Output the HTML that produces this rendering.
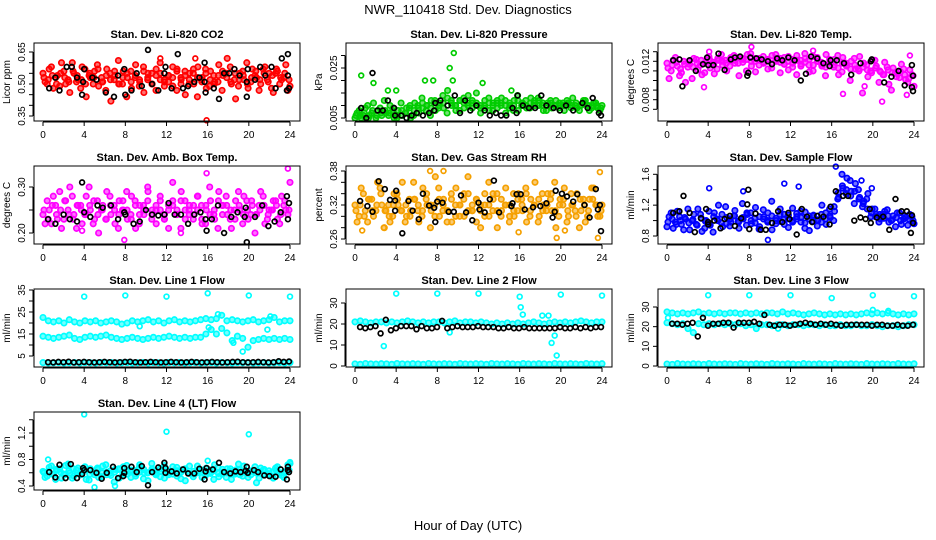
<!DOCTYPE html>
<html><head><meta charset="utf-8"><style>
body{margin:0;background:#fff;width:936px;height:540px;overflow:hidden}
svg{display:block}
text{font-family:"Liberation Sans",Arial,sans-serif;fill:#000}
</style></head><body>
<svg id="chart" width="936" height="540" xmlns="http://www.w3.org/2000/svg">
<text x="468" y="14" font-size="13" text-anchor="middle">NWR_110418  Std. Dev. Diagnostics</text>
<text x="468" y="530" font-size="13" text-anchor="middle">Hour of Day (UTC)</text>
</svg>
<script>
// ---------- data ----------
const co2A=[0.55,0.50,0.58,0.53,0.49,0.56,0.52,0.60,0.51,0.48,0.57,0.54,0.50,0.59,0.53,0.47,0.55,0.52,0.61,0.50,0.44,0.56,0.53,0.49,0.58,0.52,0.55,0.47,0.60,0.51,0.54,0.49,0.57,0.52,0.45,0.55,0.50,0.58,0.53,0.48,0.56,0.51,0.59,0.54,0.62,0.50,0.43,0.55,0.52,0.48,0.57,0.53,0.50,0.58,0.55,0.46,0.56,0.52,0.59,0.49];
const co2B=[0.51,0.57,0.48,0.54,0.60,0.50,0.46,0.55,0.52,0.58,0.44,0.53,0.56,0.49,0.51,0.57,0.42,0.54,0.50,0.56,0.53,0.48,0.59,0.51,0.46,0.55,0.50,0.57,0.52,0.49,0.54,0.58,0.47,0.53,0.56,0.50,0.55,0.44,0.52,0.57,0.49,0.54,0.51,0.47,0.55,0.58,0.52,0.49,0.56,0.60,0.51,0.54,0.47,0.57,0.52,0.48,0.55,0.50,0.53,0.47];
const co2C=[0.53,0.52,0.54,0.50,0.55,0.53,0.51,0.56,0.54,0.52,0.50,0.55,0.53,0.57,0.51,0.54,0.52,0.56,0.50,0.53,0.55,0.51,0.54,0.52,0.56,0.53,0.50,0.54,0.55,0.52,0.51,0.53,0.56,0.50,0.54,0.52,0.57,0.53,0.51,0.55,0.52,0.50,0.54,0.56,0.53,0.51,0.55,0.52,0.54,0.50,0.53,0.56,0.52,0.55,0.51,0.54,0.57,0.53,0.55,0.52];
const co2Out=[[15.9,0.33],[11.4,0.62],[14.8,0.62]];
const co2Black=[[0.6,0.48],[1.2,0.53],[2.3,0.58],[2.8,0.58],[1.6,0.47],[3.3,0.53],[3.8,0.45],[4,0.57],[3.9,0.51],[4.8,0.53],[5.2,0.52],[6.1,0.46],[6.9,0.44],[7.3,0.54],[7.9,0.57],[8,0.45],[8.6,0.47],[9.1,0.55],[9.6,0.49],[10.2,0.66],[10.6,0.50],[11.2,0.47],[11.8,0.55],[11.9,0.58],[13.1,0.64],[12.5,0.48],[13.6,0.48],[14.1,0.49],[14.7,0.51],[15.2,0.53],[15.7,0.51],[15.8,0.46],[15.7,0.60],[16.6,0.48],[17.1,0.43],[17.6,0.55],[18.1,0.55],[18.6,0.57],[19.1,0.54],[19.8,0.51],[19.9,0.57],[19.8,0.44],[20.6,0.52],[21.1,0.58],[21.6,0.54],[22.2,0.58],[22.6,0.48],[23.2,0.62],[23.7,0.47],[23.8,0.54],[23.9,0.48],[23.8,0.64]];

const presA=[0.005,0.008,0.006,0.010,0.007,0.005,0.009,0.012,0.006,0.008,0.005,0.011,0.007,0.009,0.006,0.010,0.013,0.008,0.006,0.011,0.009,0.014,0.007,0.012,0.010,0.008,0.013,0.011,0.009,0.015,0.010,0.012,0.008,0.011,0.009,0.013,0.007,0.010,0.012,0.008,0.011,0.009,0.013,0.010,0.012,0.008,0.011,0.009,0.012,0.010,0.008,0.011,0.013,0.009,0.010,0.012,0.008,0.011,0.009,0.010];
const presB=[0.007,0.005,0.009,0.006,0.011,0.008,0.006,0.007,0.010,0.005,0.008,0.006,0.009,0.005,0.011,0.007,0.009,0.010,0.012,0.008,0.011,0.009,0.016,0.010,0.008,0.012,0.009,0.014,0.011,0.010,0.007,0.009,0.013,0.008,0.011,0.010,0.012,0.009,0.008,0.014,0.010,0.012,0.009,0.011,0.013,0.010,0.008,0.012,0.010,0.009,0.011,0.012,0.009,0.010,0.008,0.012,0.010,0.009,0.011,0.008];
const presC=[0.006,0.006,0.007,0.005,0.008,0.006,0.007,0.008,0.007,0.009,0.006,0.008,0.007,0.010,0.008,0.009,0.011,0.010,0.009,0.012,0.010,0.011,0.013,0.011,0.010,0.012,0.011,0.010,0.012,0.011,0.009,0.010,0.011,0.010,0.012,0.011,0.010,0.011,0.010,0.012,0.011,0.010,0.011,0.012,0.010,0.011,0.010,0.011,0.010,0.011,0.010,0.011,0.010,0.011,0.010,0.011,0.010,0.010,0.010,0.009];
const presOut=[[0.6,0.022],[1.8,0.019],[6.8,0.020],[7.6,0.020],[9.2,0.025],[9.6,0.031],[9.5,0.020],[12.4,0.019],[4,0.016],[3.2,0.016],[15.2,0.016]];
const presBlack=[[0.6,0.009],[1.1,0.005],[1.7,0.023],[2.2,0.008],[2.7,0.008],[3.2,0.012],[3.8,0.009],[3.9,0.006],[4.5,0.006],[5,0.005],[5.5,0.006],[6,0.007],[6.6,0.006],[7.2,0.007],[7.7,0.008],[7.8,0.011],[8.3,0.012],[9,0.010],[9.7,0.014],[10.2,0.007],[10.7,0.012],[11.2,0.008],[11.8,0.010],[12.6,0.008],[13.1,0.006],[13.7,0.007],[14.2,0.006],[14.7,0.006],[15.3,0.009],[15.7,0.007],[15.8,0.014],[16.3,0.010],[16.9,0.009],[17.5,0.009],[18.1,0.014],[18.6,0.010],[19.3,0.009],[19.9,0.008],[20.5,0.010],[21.2,0.008],[22.1,0.011],[22.6,0.009],[23.1,0.013],[23.7,0.007],[23.9,0.006]];

const tempA=[0.0118,0.0110,0.0124,0.0105,0.0120,0.0114,0.0102,0.0122,0.0116,0.0108,0.0125,0.0119,0.0112,0.0127,0.0121,0.0115,0.0126,0.0118,0.0123,0.0110,0.0128,0.0120,0.0116,0.0125,0.0121,0.0113,0.0127,0.0119,0.0124,0.0111,0.0122,0.0126,0.0117,0.0123,0.0109,0.0125,0.0120,0.0115,0.0127,0.0118,0.0122,0.0106,0.0124,0.0116,0.0120,0.0112,0.0125,0.0118,0.0104,0.0121,0.0115,0.0109,0.0119,0.0096,0.0113,0.0107,0.0117,0.0101,0.0111,0.0094];
const tempB=[0.0102,0.0121,0.0115,0.0108,0.0098,0.0117,0.0123,0.0111,0.0106,0.0119,0.0113,0.0107,0.0121,0.0116,0.0110,0.0124,0.0118,0.0105,0.0122,0.0127,0.0115,0.0109,0.0123,0.0118,0.0112,0.0126,0.0120,0.0108,0.0117,0.0125,0.0114,0.0106,0.0121,0.0128,0.0116,0.0110,0.0124,0.0119,0.0105,0.0122,0.0114,0.0126,0.0109,0.0118,0.0100,0.0123,0.0112,0.0087,0.0116,0.0110,0.0121,0.0098,0.0106,0.0114,0.0090,0.0108,0.0103,0.0112,0.0098,0.0106];
const tempC=[0.0113,0.0116,0.0119,0.0112,0.0117,0.0120,0.0114,0.0118,0.0121,0.0119,0.0122,0.0117,0.0123,0.0120,0.0118,0.0122,0.0121,0.0124,0.0119,0.0122,0.0120,0.0123,0.0121,0.0119,0.0122,0.0118,0.0121,0.0123,0.0117,0.0120,0.0118,0.0121,0.0115,0.0119,0.0122,0.0116,0.0120,0.0117,0.0114,0.0119,0.0116,0.0113,0.0118,0.0115,0.0112,0.0116,0.0110,0.0114,0.0111,0.0108,0.0113,0.0110,0.0106,0.0111,0.0108,0.0104,0.0109,0.0106,0.0102,0.0105];
const tempOut=[[8.2,0.0135],[3.6,0.0093],[14.2,0.0131],[20.9,0.0078],[23.3,0.0085],[23.6,0.0126],[17.1,0.0086],[19.2,0.0094],[4.1,0.0130]];
const tempBlack=[[0.6,0.0121],[1.2,0.0122],[1.5,0.0094],[2.2,0.0121],[2.8,0.0110],[3.5,0.0117],[3.9,0.0124],[4,0.0116],[4.5,0.0116],[5,0.0128],[5.6,0.0111],[6.2,0.0122],[6.6,0.0124],[7.1,0.0125],[7.8,0.0105],[7.9,0.0108],[8.1,0.0124],[8.7,0.0123],[9.2,0.0122],[9.8,0.0120],[10.2,0.0117],[10.7,0.0123],[11.2,0.0121],[11.8,0.0124],[12.4,0.0121],[13,0.0100],[13.5,0.0107],[14,0.0125],[14.6,0.0123],[15.2,0.0118],[15.8,0.0115],[15.9,0.0121],[16.5,0.0121],[17.2,0.0118],[17.9,0.0106],[18.8,0.0118],[19.8,0.0120],[19.9,0.0122],[21.1,0.0098],[21.8,0.0104],[22.5,0.0110],[23.1,0.0095],[23.8,0.0093],[23.9,0.0105],[23.8,0.0116],[23.9,0.0089]];

const ambA=[0.24,0.27,0.22,0.26,0.29,0.23,0.25,0.28,0.21,0.26,0.24,0.30,0.22,0.27,0.25,0.23,0.28,0.26,0.21,0.25,0.29,0.24,0.27,0.22,0.26,0.30,0.23,0.25,0.28,0.24,0.21,0.27,0.25,0.29,0.23,0.26,0.24,0.28,0.22,0.25,0.27,0.23,0.29,0.26,0.24,0.21,0.27,0.25,0.28,0.23,0.26,0.24,0.29,0.22,0.25,0.27,0.23,0.28,0.25,0.31];
const ambB=[0.22,0.25,0.28,0.23,0.21,0.27,0.30,0.24,0.26,0.22,0.28,0.25,0.23,0.20,0.26,0.29,0.24,0.22,0.27,0.25,0.23,0.28,0.21,0.26,0.24,0.29,0.25,0.22,0.27,0.23,0.26,0.31,0.24,0.21,0.27,0.25,0.23,0.28,0.26,0.22,0.30,0.24,0.21,0.26,0.28,0.23,0.25,0.29,0.22,0.27,0.24,0.20,0.26,0.28,0.23,0.25,0.27,0.22,0.26,0.24];
const ambC=[0.25,0.23,0.26,0.24,0.25,0.27,0.24,0.23,0.26,0.25,0.24,0.26,0.27,0.24,0.25,0.23,0.26,0.25,0.24,0.27,0.25,0.23,0.26,0.24,0.25,0.27,0.24,0.26,0.25,0.23,0.25,0.26,0.24,0.27,0.25,0.24,0.26,0.25,0.23,0.26,0.24,0.25,0.27,0.24,0.26,0.25,0.23,0.26,0.24,0.25,0.27,0.24,0.25,0.26,0.24,0.25,0.26,0.24,0.27,0.25];
const ambOut=[[7.9,0.185],[15.9,0.33],[23.8,0.34],[3.8,0.205],[13.4,0.20]];
const ambBlack=[[0.5,0.23],[1.2,0.22],[2,0.24],[2.6,0.23],[3.3,0.225],[3.8,0.31],[4,0.245],[4.6,0.235],[5.3,0.26],[5.8,0.255],[6.6,0.26],[7.3,0.23],[7.9,0.245],[8,0.24],[8.8,0.22],[9.4,0.225],[10,0.25],[10.6,0.24],[11.2,0.238],[11.8,0.24],[12.2,0.265],[12.8,0.24],[13.4,0.24],[14.1,0.22],[14.7,0.24],[15.3,0.245],[15.9,0.205],[15.8,0.23],[16.4,0.23],[17,0.26],[17.6,0.20],[18.3,0.235],[18.9,0.245],[19.6,0.235],[19.8,0.18],[19.7,0.255],[20.6,0.235],[21.3,0.26],[21.9,0.215],[22.5,0.225],[23.1,0.245],[23.7,0.28],[23.8,0.23],[23.9,0.265]];

const rhA=[0.32,0.30,0.34,0.29,0.33,0.31,0.35,0.28,0.32,0.30,0.34,0.31,0.29,0.33,0.36,0.31,0.30,0.33,0.28,0.32,0.35,0.31,0.29,0.34,0.32,0.30,0.33,0.37,0.31,0.29,0.32,0.34,0.30,0.33,0.28,0.31,0.35,0.32,0.30,0.34,0.31,0.29,0.33,0.36,0.30,0.32,0.34,0.31,0.28,0.33,0.35,0.30,0.32,0.34,0.31,0.29,0.33,0.35,0.30,0.32];
const rhB=[0.29,0.35,0.31,0.33,0.30,0.36,0.32,0.31,0.29,0.34,0.32,0.36,0.30,0.31,0.33,0.29,0.35,0.32,0.31,0.37,0.30,0.33,0.31,0.29,0.35,0.32,0.30,0.34,0.31,0.33,0.28,0.32,0.36,0.31,0.34,0.30,0.32,0.29,0.34,0.31,0.33,0.35,0.30,0.32,0.29,0.34,0.31,0.33,0.36,0.30,0.32,0.29,0.34,0.31,0.28,0.33,0.30,0.35,0.32,0.30];
const rhC=[0.31,0.32,0.30,0.33,0.31,0.32,0.34,0.31,0.30,0.32,0.33,0.31,0.32,0.30,0.33,0.32,0.31,0.34,0.32,0.30,0.33,0.32,0.31,0.33,0.30,0.32,0.34,0.31,0.32,0.33,0.31,0.30,0.32,0.34,0.31,0.33,0.32,0.30,0.31,0.33,0.32,0.34,0.31,0.32,0.33,0.31,0.32,0.34,0.31,0.32,0.33,0.31,0.32,0.30,0.33,0.32,0.31,0.33,0.32,0.31];
const rhOut=[[0.7,0.275],[2.8,0.28],[7.3,0.38],[8.6,0.38],[15.9,0.272],[19.6,0.262],[23.8,0.378],[23.6,0.262],[20.4,0.275]];
const rhBlack=[[0.5,0.327],[1.2,0.318],[1.7,0.308],[2.3,0.362],[2.9,0.348],[3.4,0.329],[3.9,0.328],[4,0.345],[3.9,0.310],[4.6,0.270],[5.2,0.327],[5.6,0.310],[6.2,0.295],[6.6,0.340],[7.2,0.319],[7.7,0.315],[7.8,0.290],[8,0.326],[8.5,0.324],[9.1,0.308],[9.6,0.308],[10.3,0.337],[10.8,0.307],[11.4,0.293],[12,0.324],[12.1,0.312],[12.6,0.307],[13.1,0.330],[13.5,0.363],[14,0.307],[15.2,0.318],[15.3,0.323],[15.7,0.339],[16.1,0.339],[16.5,0.312],[17.3,0.316],[18.0,0.318],[18.6,0.323],[19.2,0.298],[19.4,0.308],[19.5,0.345],[20.1,0.340],[20.6,0.335],[21.2,0.326],[21.6,0.339],[22.3,0.320],[22.8,0.298],[23.4,0.348],[23.6,0.312],[23.8,0.320],[23.9,0.274]];

const flowA=[0.92,1.10,0.98,1.05,0.88,1.15,1.00,0.95,1.08,0.90,1.12,0.85,1.02,0.97,1.18,0.93,1.06,0.99,1.22,0.94,1.10,1.03,0.89,1.14,1.00,1.25,0.96,1.08,1.02,0.91,1.16,1.05,0.98,1.11,0.87,1.07,1.00,1.20,0.95,1.04,1.12,1.30,1.42,1.55,1.38,1.48,1.30,1.25,1.35,1.15,1.08,1.02,1.12,0.98,1.06,1.10,0.95,1.04,1.08,0.96];
const flowB=[1.05,0.90,1.12,0.95,1.02,0.88,1.08,1.15,0.86,1.00,0.94,1.10,1.20,0.92,1.04,0.98,1.13,0.90,1.02,1.08,0.96,1.17,0.92,1.05,1.10,0.88,1.00,1.15,0.95,1.07,0.98,1.02,1.12,0.90,1.06,0.99,0.93,1.08,1.02,1.15,1.00,1.28,1.60,1.35,1.52,1.22,1.40,1.18,1.28,1.05,1.15,0.98,1.08,1.14,1.00,0.92,1.10,1.02,0.94,1.05];
const flowC=[0.98,1.02,0.95,1.00,1.04,0.97,1.01,0.94,1.03,0.99,0.96,1.05,1.00,1.08,0.96,1.02,1.06,0.98,1.04,1.10,1.00,0.97,1.05,1.02,0.98,1.06,1.03,0.99,1.08,1.02,1.00,1.09,1.04,0.97,1.02,1.06,1.01,0.98,1.10,1.06,1.18,1.36,1.45,1.40,1.32,1.38,1.28,1.22,1.15,1.10,1.05,1.08,1.03,1.06,1.01,1.04,1.00,1.06,1.02,1.00];
const flowOut=[[4.1,1.42],[7.4,1.38],[11.4,1.48],[12.8,1.44],[9.8,0.75],[16.4,1.70],[18.9,1.52],[19.9,1.42]];
const flowBlack=[[0.6,1.10],[1.2,1.12],[1.6,1.32],[2.2,1.10],[2.7,0.85],[3.3,1.03],[3.8,1.15],[4,0.98],[4,0.95],[4.6,1.00],[5.2,0.90],[5.6,1.02],[6.1,1.06],[6.6,0.93],[7.2,1.03],[7.8,1.21],[7.9,1.40],[8,0.89],[8.6,1.09],[9.1,0.88],[9.6,0.88],[10.2,0.97],[10.8,1.12],[11.2,0.98],[11.8,1.10],[11.9,1.02],[12.6,0.82],[13.1,1.15],[13.6,1.05],[14.1,0.98],[14.6,1.06],[15.2,1.05],[15.8,0.95],[15.9,1.18],[16.4,1.38],[17.1,1.32],[17.6,1.32],[18.2,1.00],[18.8,1.04],[19.3,1.02],[19.7,1.15],[19.8,0.97],[20.4,1.04],[21,1.05],[21.6,0.88],[22.2,1.28],[22.8,1.12],[23.3,1.12],[23.7,0.84],[23.8,1.07],[23.9,0.97]];

const l1A=[22.5,21,20.5,21,20,21.5,20.5,20,21,20.5,21,20,20.5,21,20.5,19.5,20,21,20.5,21,21.5,20.5,21,20,21,21.5,20.5,21,20.5,21,21.5,22,21.5,22,23.5,21,21.5,21,20.5,21,21.5,20.5,21,21.5,22.5,20.5,21,21];
const l1B=[14,13.5,13,13.5,14,14.5,13,12.5,13.5,14,13.5,14,14.5,13.5,13,12.5,13,13.5,13,12.5,13,13.5,13,13.5,14,13.5,13,13.5,13,13.5,13.5,15,17,15,17.5,15.5,12,14,13,9,12,12.5,13,12.5,13,12.5,13,12.5];
const l1C=[2,1.8,1.9,2,1.8,1.9,2,1.8,2,1.9,1.8,2,1.9,2,1.8,1.9,2,1.8,1.9,2,1.8,2,1.9,1.8,2,1.9,2,1.8,1.9,2,1.8,1.9,2,1.8,2,1.9,1.8,2,1.9,2,1.8,1.9,2,1.8,1.9,2,1.8,2];
const l1Out=[[4,32],[8,32.5],[12,32],[16,33.5],[20,32.5],[24,32],[16.1,18],[19.4,7],[21.8,17],[22.1,23],[17,24],[9.4,18.5],[18.5,11]];
const l1Black=[2.2,2.1,2.3,2.2,2.4,2.1,2.2,2.3,2.2,2.1,2.2,2.3,2.2,2.1,2.2,2.3,2.4,2.2,2.1,2.2,2.3,2.2,2.1,2.2,2.3,2.2,2.1,2.2,2.3,2.2,2.1,2.2,2.3,2.2,2.1,2.2,2.3,2.4,2.2,2.1,2.2,2.3,2.2,2.1,2.2,2.6,2.3,2.5];

const l2A=[21,21.5,21,20.5,21,21,20.5,21,20.5,21,21.5,21,20.5,21,20.5,21,21,20.5,21,21.5,20.5,21,21,20.5,21,20.5,20,20.5,20,20.5,20,20.5,20,20.5,21,20.5,20,20.5,21,20.5,21,20.5,21,21.5,21,20.5,21,21];
const l2C=[1,0.8,1.2,1,0.9,1.1,1,0.8,1.2,1,0.9,1.1,1,0.8,1.2,1,0.9,1.1,1,0.8,1.2,1,0.9,1.1,1,0.8,1.2,1,0.9,1.1,1,0.8,1.2,1,0.9,1.1,1,0.8,1.2,1,0.9,1.1,1,0.8,1.2,1,0.9,1.1];
const l2Out=[[4,34.5],[8,34.5],[12,34.5],[16,33],[16.1,28],[16.3,24.5],[20,34],[24,33.5],[2.8,9.5],[19.1,11],[19.4,14.5],[19.6,5],[18.2,24],[18.8,24],[9.2,16]];
const l2Black=[18.5,18,18.5,19,15.5,22,17,18,19,19,19,17.5,19,18,18,18.5,21.5,18,18.5,19,18.5,18.5,18.5,19,18.5,18.5,18.5,18,18,18.5,18,18,18.5,18,18,18,18,18,18,18.5,18,18,18.5,18,18.5,18,18.5,18.5];

const l3A=[27.5,27,26.5,27,26.5,27,27.5,26.5,27,26.5,27,26.5,27,27,26.5,27,26.5,27,26.5,27,27,26.5,27.5,26.5,27,26.5,26,26.5,27,26.5,26,26.5,26,26.5,26,26.5,26,26.5,27,26.5,27,26.5,27,26.5,26,26.5,26,26.5];
const l3B=[22,21.5,21,21.5,19,17,21.5,21,21.5,21,21.5,21,21.5,21,21.5,20.5,21,19,21,21,20.5,21,21,20.5,21,21,20.5,21,21,20.5,21,20.5,20.5,21,20.5,20.5,21,20.5,20.5,21,20.5,20,20.5,20.5,20,20.5,21,21];
const l3C=[1,0.8,1.2,1,0.9,1.1,1,0.8,1.2,1,0.9,1.1,1,0.8,1.2,1,0.9,1.1,1,0.8,1.2,1,0.9,1.1,1,0.8,1.2,1,0.9,1.1,1,0.8,1.2,1,0.9,1.1,1,0.8,1.2,1,0.9,1.1,1,0.8,1.2,1,0.9,1.1];
const l3Out=[[4,36],[8,36],[12,36],[16,34.5],[20,36],[24,35.5],[0.1,24.5],[10.8,19],[20,28.5],[21.5,28]];
const l3Black=[21.5,21.5,21,21.5,22,15,24.5,20.5,21.5,21.5,22,22,19.5,22,22,22,22.5,21.5,26,21,20.5,21,21,20.5,21,21.5,22,21.5,21,21.5,21,21.5,21,20.5,21,21,21,21,21,20.5,21,21,20.5,20.5,21,20.5,20.5,21];

const l4A=[0.62,0.55,0.70,0.50,0.66,0.58,0.73,0.52,0.64,0.57,0.69,0.49,0.61,0.67,0.54,0.72,0.59,0.46,0.65,0.56,0.71,0.53,0.63,0.68,0.51,0.60,0.74,0.57,0.66,0.52,0.62,0.69,0.55,0.64,0.48,0.70,0.58,0.63,0.53,0.67,0.59,0.72,0.54,0.61,0.66,0.50,0.64,0.57,0.70,0.53,0.62,0.45,0.67,0.58,0.63,0.52,0.69,0.56,0.61,0.74];
const l4B=[0.53,0.68,0.58,0.64,0.52,0.71,0.60,0.55,0.67,0.62,0.50,0.66,0.57,0.53,0.70,0.61,0.56,0.65,0.52,0.69,0.58,0.63,0.55,0.72,0.60,0.48,0.66,0.59,0.54,0.71,0.57,0.62,0.68,0.51,0.65,0.59,0.54,0.70,0.61,0.56,0.64,0.50,0.68,0.58,0.53,0.66,0.60,0.73,0.55,0.62,0.57,0.69,0.52,0.64,0.59,0.55,0.67,0.60,0.53,0.72];
const l4C=[0.60,0.62,0.58,0.65,0.61,0.57,0.63,0.66,0.59,0.62,0.64,0.58,0.61,0.65,0.60,0.57,0.63,0.61,0.66,0.59,0.62,0.64,0.58,0.61,0.65,0.60,0.63,0.57,0.62,0.64,0.60,0.58,0.63,0.61,0.66,0.59,0.62,0.60,0.64,0.58,0.61,0.63,0.59,0.65,0.60,0.62,0.58,0.64,0.61,0.59,0.63,0.60,0.62,0.65,0.58,0.61,0.63,0.60,0.62,0.64];
const l4Out=[[4,1.48],[12,1.22],[20,1.18],[0.5,0.80],[5,0.38],[7,0.40],[16,0.78],[24,0.76]];
const l4Black=[[0.6,0.61],[1.2,0.53],[1.6,0.72],[2.2,0.52],[2.7,0.73],[3.3,0.52],[3.8,0.58],[3.9,0.67],[4,0.64],[4.6,0.64],[5.2,0.60],[5.7,0.51],[6.2,0.60],[6.8,0.69],[7.3,0.52],[7.8,0.55],[7.9,0.67],[7.9,0.60],[8.6,0.69],[9.1,0.61],[9.6,0.70],[10.2,0.41],[10.6,0.61],[11.2,0.68],[11.8,0.75],[11.9,0.67],[11.9,0.60],[12.5,0.62],[13,0.59],[13.6,0.65],[14.1,0.59],[14.7,0.59],[15.2,0.66],[15.7,0.50],[15.8,0.62],[15.9,0.67],[16.5,0.65],[17.1,0.75],[17.6,0.61],[18.2,0.59],[18.7,0.62],[19.2,0.61],[19.7,0.63],[19.8,0.69],[19.9,0.60],[20.5,0.64],[20.9,0.61],[21.5,0.56],[22,0.55],[22.6,0.54],[23.1,0.65],[23.7,0.50],[23.8,0.69],[23.8,0.64],[23.9,0.61]];

const xTicks=[0,4,8,12,16,20,24];

// ---------- drawing ----------
const NS="http://www.w3.org/2000/svg";
const svg=document.getElementById('chart');
const colLeft=[34,346,658], rowTop=[43,166,289,412], PW=266, PH=78;
function mk(tag,attrs,parent){const e=document.createElementNS(NS,tag);for(const k in attrs)e.setAttribute(k,attrs[k]);(parent||svg).appendChild(e);return e;}
function even(arr,h0,h1){return arr.map((v,i)=>[h0+(h1-h0)*i/(arr.length-1),v]);}

const panels=[
 {id:'co2',title:'Stan. Dev. Li-820 CO2',ylab:'Licor ppm',c:0,r:0,ya:[0.65,9,0.35,73],ticks:[0.35,0.40,0.45,0.50,0.55,0.60,0.65],labels:[0.35,0.50,0.65],fmt:2,
  series:[[even(co2A,0,24),'#ff0000',1],[even(co2B,0.2,23.8),'#ff0000',1],[even(co2C,0.1,23.9),'#ff0000',1],[co2Out,'#ff0000',0],[co2Black,'#000',0]]},
 {id:'pressure',title:'Stan. Dev. Li-820 Pressure',ylab:'kPa',c:1,r:0,ya:[0.025,25,0.005,75],ticks:[0.005,0.010,0.015,0.020,0.025,0.030],labels:[0.005,0.025],fmt:3,
  series:[[even(presA,0,24),'#00cc00',1],[even(presB,0.2,23.8),'#00cc00',1],[even(presC,0.1,23.9),'#00cc00',1],[presOut,'#00cc00',0],[presBlack,'#000',0]]},
 {id:'temp',title:'Stan. Dev. Li-820 Temp.',ylab:'degrees C',c:2,r:0,ya:[0.012,18.3,0.008,56.7],ticks:[0.007,0.008,0.009,0.010,0.011,0.012,0.013],labels:[0.008,0.012],fmt:3,
  series:[[even(tempA,0,24),'#ff00ff',1],[even(tempB,0.2,23.8),'#ff00ff',1],[even(tempC,0.1,23.9),'#ff00ff',1],[tempOut,'#ff00ff',0],[tempBlack,'#000',0]]},
 {id:'ambbox',title:'Stan. Dev. Amb. Box Temp.',ylab:'degrees C',c:0,r:1,ya:[0.30,21,0.20,67],ticks:[0.20,0.25,0.30],labels:[0.20,0.30],fmt:2,
  series:[[even(ambA,0,24),'#ff00ff',1],[even(ambB,0.2,23.8),'#ff00ff',1],[even(ambC,0.1,23.9),'#ff00ff',1],[ambOut,'#ff00ff',0],[ambBlack,'#000',0]]},
 {id:'rh',title:'Stan. Dev. Gas Stream RH',ylab:'percent',c:1,r:1,ya:[0.38,5,0.26,73],ticks:[0.26,0.28,0.30,0.32,0.34,0.36,0.38],labels:[0.26,0.32,0.38],fmt:2,
  series:[[even(rhA,0,24),'#f5a000',1],[even(rhB,0.2,23.8),'#f5a000',1],[even(rhC,0.1,23.9),'#f5a000',1],[rhOut,'#f5a000',0],[rhBlack,'#000',0]]},
 {id:'sampleflow',title:'Stan. Dev. Sample Flow',ylab:'ml/min',c:2,r:1,ya:[1.6,8.3,0.8,70],ticks:[0.8,1.0,1.2,1.4,1.6],labels:[0.8,1.2,1.6],fmt:1,
  series:[[even(flowA,0,24),'#0000ff',1],[even(flowB,0.2,23.8),'#0000ff',1],[even(flowC,0.1,23.9),'#0000ff',1],[flowOut,'#0000ff',0],[flowBlack,'#000',0]]},
 {id:'line1',title:'Stan. Dev. Line 1 Flow',ylab:'ml/min',c:0,r:2,ya:[35,1,5,67],ticks:[5,10,15,20,25,30,35],labels:[5,15,25,35],fmt:0,
  series:[[even(l1A,0,24),'#00ffff',1],[even(l1B,0,24),'#00ffff',1],[even(l1C,0,24),'#00ffff',1],[l1Out,'#00ffff',0],[even(l1Black,0.5,23.9),'#000',0]]},
 {id:'line2',title:'Stan. Dev. Line 2 Flow',ylab:'ml/min',c:1,r:2,ya:[30,14,0,77],ticks:[0,10,20,30],labels:[0,10,20,30],fmt:0,
  series:[[even(l2A,0,24),'#00ffff',1],[even(l2C,0,24),'#00ffff',1],[l2Out,'#00ffff',0],[even(l2Black,0.5,23.9),'#000',0]]},
 {id:'line3',title:'Stan. Dev. Line 3 Flow',ylab:'ml/min',c:2,r:2,ya:[30,18,0,77],ticks:[0,10,20,30],labels:[0,10,20,30],fmt:0,
  series:[[even(l3A,0,24),'#00ffff',1],[even(l3B,0,24),'#00ffff',1],[even(l3C,0,24),'#00ffff',1],[l3Out,'#00ffff',0],[even(l3Black,0.5,23.9),'#000',0]]},
 {id:'line4',title:'Stan. Dev. Line 4 (LT) Flow',ylab:'ml/min',c:0,r:3,ya:[1.2,21,0.4,74],ticks:[0.4,0.6,0.8,1.0,1.2,1.4],labels:[0.4,0.8,1.2],fmt:1,
  series:[[even(l4A,0,24),'#00ffff',1],[even(l4B,0.2,23.8),'#00ffff',1],[even(l4C,0.1,23.9),'#00ffff',1],[l4Out,'#00ffff',0],[l4Black,'#000',0]]}
];

panels.forEach(p=>{
  const L=colLeft[p.c], T=rowTop[p.r];
  const g=mk('g',{});
  
  
  const xs=h=>L+9+h*(247/24);
  const ys=v=>T+p.ya[1]+(v-p.ya[0])*(p.ya[3]-p.ya[1])/(p.ya[2]-p.ya[0]);
  const t=mk('text',{x:L+PW/2,y:T-5,'font-size':11,'font-weight':'bold','text-anchor':'middle'},g);
  
  
  t.textContent=p.title;
  const yl=mk('text',{x:0,y:0,'font-size':10,'text-anchor':'middle',transform:`translate(${L-24},${T+PH/2}) rotate(-90)`},g);
  
  
  yl.textContent=p.ylab;
  const pts=mk('g',{'stroke-width':1.7},g);
  
  
  p.series.forEach(s=>{
    const dense=s[2]===1;
    s[0].forEach(d=>{
      const c=mk('circle',{cx:xs(d[0]).toFixed(1),cy:ys(d[1]).toFixed(1),r:dense?2.7:2.4,stroke:s[1],fill:dense?s[1]:'none','fill-opacity':dense?0.55:0},pts);
      
      
    });
  });
  const box=mk('rect',{x:L,y:T,width:PW,height:PH,fill:'none',stroke:'#000','stroke-width':1},g);
  
  
  const xa=mk('g',{},g);
  
  
  mk('line',{x1:xs(0),x2:xs(24),y1:T+PH+1,y2:T+PH+1,stroke:'#000'},xa);
  xTicks.forEach(h=>{
    mk('line',{x1:xs(h),x2:xs(h),y1:T+PH+1,y2:T+PH+5,stroke:'#000'},xa);
    const lt=mk('text',{x:xs(h),y:T+PH+17,'font-size':10,'text-anchor':'middle'},xa);
    
    
    lt.textContent=h;
  });
  const ya=mk('g',{},g);
  
  
  const tk=p.ticks;
  mk('line',{x1:L-1,x2:L-1,y1:ys(tk[0]),y2:ys(tk[tk.length-1]),stroke:'#000'},ya);
  tk.forEach(v=>mk('line',{x1:L-5,x2:L-1,y1:ys(v),y2:ys(v),stroke:'#000'},ya));
  p.labels.forEach(v=>{
    const lt=mk('text',{x:0,y:0,'font-size':10,'text-anchor':'middle',transform:`translate(${L-9},${ys(v)}) rotate(-90)`},ya);
    
    
    lt.textContent=v.toFixed(p.fmt);
  });
});
</script>
</body></html>
